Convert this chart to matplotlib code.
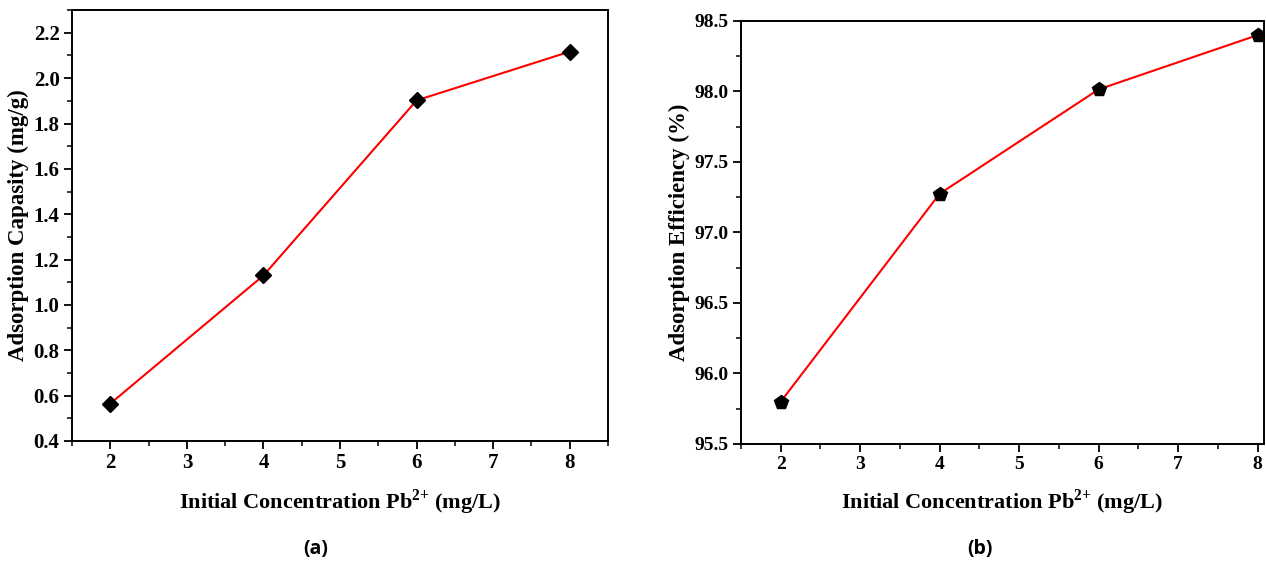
import matplotlib.pyplot as plt
from matplotlib.ticker import MultipleLocator

# dados
concentracao = [2, 4, 6, 8]
capacidade = [0.565, 1.13, 1.902, 2.117]
eficiencia = [95.80, 97.275, 98.015, 98.40]

plt.rcParams['font.family'] = 'Liberation Serif'
plt.rcParams['font.weight'] = 'bold'
plt.rcParams['mathtext.fontset'] = 'custom'
plt.rcParams['mathtext.rm'] = 'Liberation Serif'
plt.rcParams['mathtext.bf'] = 'Liberation Serif:bold'

rotulo_x = r'Initial Concentration Pb$^{\mathbf{2}{\mathbf{+}}}$ (mg/L)'

fig = plt.figure(figsize=(12.66, 5.63), dpi=100)
ax1 = fig.add_axes([0.0569, 0.2167, 0.4234, 0.7653])
ax2 = fig.add_axes([0.5853, 0.2114, 0.4131, 0.7513])


def estilo(ax, tam):
    for s in ax.spines.values():
        s.set_linewidth(1.4)
    ax.tick_params(which='major', direction='out', length=6, width=1.3, labelsize=tam, pad=3)
    ax.tick_params(which='minor', direction='out', length=3.5, width=1.1)
    ax.xaxis.set_major_locator(MultipleLocator(1))
    ax.xaxis.set_minor_locator(MultipleLocator(0.5))
    for lb in ax.get_xticklabels() + ax.get_yticklabels():
        lb.set_fontweight('bold')


ax1.plot(concentracao, capacidade, color='red', lw=1.5, marker='D', ms=8,
         mfc='black', mec='black')
ax1.set_xlim(1.5, 8.5)
ax1.set_ylim(0.4, 2.3)
ax1.yaxis.set_major_locator(MultipleLocator(0.2))
ax1.yaxis.set_minor_locator(MultipleLocator(0.1))
ax1.set_xlabel(rotulo_x, fontsize=16, fontweight='bold', labelpad=10)
ax1.set_ylabel('Adsorption Capasity (mg/g)', fontsize=16.5, fontweight='bold', labelpad=3)
estilo(ax1, 15)

ax2.plot(concentracao, eficiencia, color='red', lw=1.5, marker='p', ms=10,
         mfc='black', mec='black')
ax2.set_xlim(1.5, 8.08)
ax2.set_ylim(95.5, 98.5)
ax2.yaxis.set_major_locator(MultipleLocator(0.5))
ax2.yaxis.set_minor_locator(MultipleLocator(0.25))
ax2.set_xlabel(rotulo_x, fontsize=16, fontweight='bold', labelpad=10)
ax2.set_ylabel('Adsorption Efficiency (%)', fontsize=16.5, fontweight='bold', labelpad=3)
ax2.yaxis.set_major_formatter(plt.FormatStrFormatter('%.1f'))
estilo(ax2, 14)

fig.text(316 / 1266, 1 - 549 / 563, '(a)', fontsize=14, fontweight='bold',
         family='Open Sans', ha='center', va='center')
fig.text(980 / 1266, 1 - 549 / 563, '(b)', fontsize=14, fontweight='bold',
         family='Open Sans', ha='center', va='center')

fig.savefig('out.png', dpi=100)
